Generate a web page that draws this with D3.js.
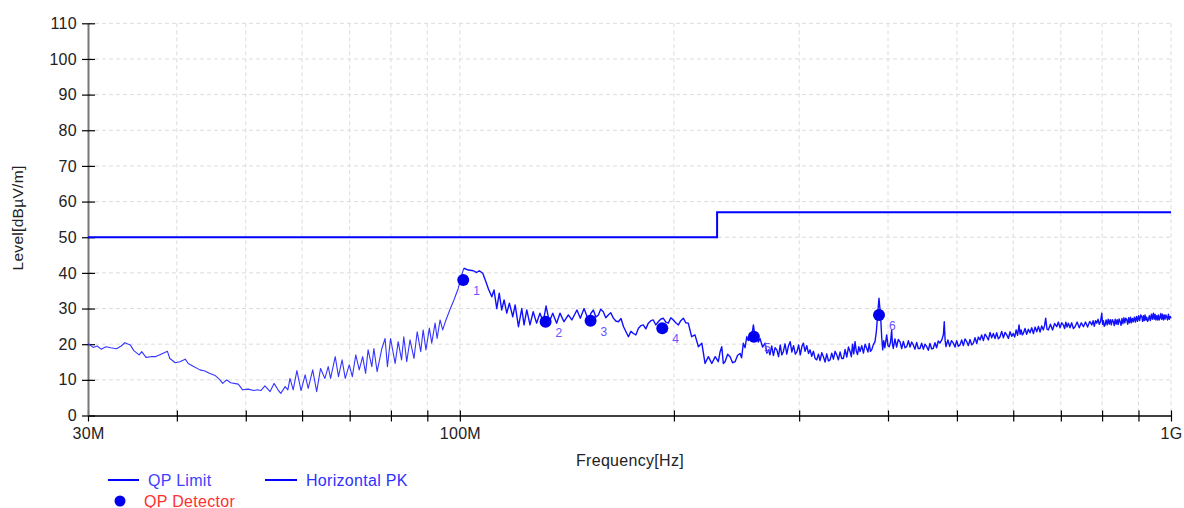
<!DOCTYPE html>
<html>
<head>
<meta charset="utf-8">
<script src="https://cdn.jsdelivr.net/npm/d3@7"></script>
<style>
body { margin: 0; background: #fff; }
text { font-family: "Liberation Sans", Arial, sans-serif; letter-spacing: 0.3px; }
</style>
</head>
<body>
<script>
// frequency in MHz, level in dBuV/m
const limitFreq = [30, 230, 230, 1000];
const limitLevel = [50, 50, 57, 57];

const qpFreq = [101.1, 132.0, 152.7, 192.6, 259.1, 388.5];
const qpLevel = [38.0, 26.3, 26.6, 24.5, 22.1, 28.2];
const qpLabels = ['1', '2', '3', '4', '5', '6'];

const xTicks = [30, 40, 50, 60, 70, 80, 90, 100, 200, 300, 400, 500, 600, 700, 800, 900, 1000];
const xLabels = { 30: '30M', 100: '100M', 1000: '1G' };
const yTicks = [0, 10, 20, 30, 40, 50, 60, 70, 80, 90, 100, 110];

// Horizontal PK trace
const pkTrace = [
  [30.0,20.2],[30.5,19.1],[30.9,19.5],[31.3,18.6],[31.8,19.3],[32.3,19.0],[32.9,18.7],[33.4,19.5],[33.8,20.4],
  [34.4,19.8],[34.8,18.2],[35.4,17.0],[35.7,17.9],[36.2,16.3],[36.8,16.5],[37.3,16.5],[38.0,17.2],[38.8,18.0],
  [39.1,16.0],[39.8,14.8],[40.4,15.1],[41.1,15.8],[41.5,14.6],[42.1,13.9],[43.1,12.8],[43.8,12.5],[44.5,11.8],
  [45.3,11.2],[46.0,10.0],[46.4,9.0],[47.0,10.0],[47.6,9.2],[48.8,8.8],[49.5,7.2],[50.4,7.4],[51.3,7.0],
  [51.9,7.2],[52.5,7.0],[53.2,8.3],[54.1,6.7],[54.8,9.0],[55.5,7.2],[56.0,6.2],[56.8,8.1],[57.3,7.2],
  [57.7,10.4],[58.3,7.2],[59.0,12.6],[59.8,7.0],
  [60.6,11.4],[61.2,7.6],[62.1,12.8],[62.9,6.7],[63.7,13.2],[64.6,10.4],[65.3,13.7],[65.8,10.4],[66.8,16.5],
  [67.5,10.9],[68.3,15.6],[69.0,10.4],[69.9,14.2],[70.6,10.9],[71.4,17.0],[72.2,12.8],[73.0,16.5],[73.7,11.8],
  [74.3,18.4],[75.2,13.7],[75.7,18.8],[76.5,12.3],[77.7,18.8],[78.5,21.6],[79.1,13.7],[79.9,21.6],[81.1,14.6],
  [81.9,20.7],[82.8,15.6],[83.4,22.1],[84.2,15.1],[85.1,21.2],[86.2,16.0],[87.1,23.5],[88.1,17.9],[88.8,24.0],
  [89.6,18.4],[90.6,24.5],[91.3,20.3],[92.3,25.9],[92.9,21.6],[93.8,26.8],[94.6,24.0],[95.6,26.8],[96.8,29.6],
  [98.1,32.4],[99.5,35.7],[100.6,39.4],[101.3,41.3],[102.8,40.8],[104.5,40.6],[105.6,40.1],[106.5,40.6],
  [107.7,39.9],[108.8,37.5],[109.7,35.5],[110.9,33.3],[111.7,35.2],[112.7,30.0],[113.6,34.3],[114.5,29.6],
  [115.4,32.4],[116.4,28.7],[117.4,31.5],[118.7,27.7],[119.6,31.0],[120.9,24.9],[122.2,30.0],[123.1,25.4],
  [124.2,29.6],[125.5,25.4],[126.8,29.1],[128.2,25.9],[129.6,28.7],[131.0,26.3],[132.2,30.7],[133.6,26.3],
  [135.1,28.7],[136.8,25.9],[138.3,28.7],[140.1,26.3],[142.1,28.2],[143.7,26.8],[146.1,29.6],[147.7,27.3],
  [149.5,30.0],[151.6,26.8],[152.8,28.6],[154.1,29.6],[155.3,27.6],[156.6,28.2],[157.8,29.8],[159.1,29.1],
  [160.4,27.4],[161.7,28.2],[163.0,28.8],[164.4,27.3],[165.7,26.5],[167.1,26.3],[168.5,27.2],[169.9,24.9],
  [172.6,22.1],[174.0,23.6],[175.4,23.0],[176.8,22.6],[178.3,24.5],[179.7,25.2],[181.1,25.4],[182.6,24.3],
  [184.1,25.9],[185.6,26.6],[187.1,26.8],[188.6,25.4],[190.1,26.3],[191.6,27.0],[193.2,27.3],[194.8,26.2],
  [196.4,25.9],[198.0,27.4],[199.6,26.8],[201.2,26.0],[202.9,25.4],[204.5,26.6],[206.2,27.3],[207.8,26.0],
  [209.5,25.9],[211.8,22.1],[214.1,22.6],[216.5,19.3],[218.9,20.3],[221.2,14.6],[223.6,16.5],[226.1,14.6],
  [228.6,16.5],
  [230.9,15.1],[232.2,17.8],[233.5,19.3],[234.7,14.6],[236.0,15.1],[238.0,17.2],[239.9,16.5],[241.8,14.8],
  [243.8,15.1],[245.8,16.9],[247.8,17.4],[249.0,16.2],[250.4,20.3],[251.8,19.0],[253.2,22.1],[254.5,21.0],
  [255.9,23.0],[257.3,22.3],[258.7,25.4],[260.1,22.0],[261.5,23.0],[262.9,20.6],[264.3,21.6],[266.5,19.2],
  [268.7,20.3],[270.2,17.5],[271.7,18.4],[272.9,17.0],[274.5,19.5],[276.0,16.8],[277.5,19.0],[279.1,18.4],
  [280.6,16.5],[282.2,19.8],[283.6,17.0],[285.0,17.9],[286.6,20.1],[288.2,17.2],[289.8,19.5],[291.4,20.7],
  [293.0,17.8],[294.6,19.6],[296.3,17.2],[297.9,17.9],[299.5,19.8],[301.1,17.0],[302.7,19.4],[304.1,20.3],
  [305.8,18.0],[307.5,19.6],[309.2,17.4],[310.8,18.4],[312.5,16.6],[314.2,18.0],[315.9,16.0],[317.6,15.6],
  [319.3,17.2],[321.0,15.4],[322.8,17.6],[324.5,16.5],[326.3,15.0],[328.0,17.3],[329.8,15.3],[331.6,15.6],
  [333.4,17.5],[335.2,15.8],[337.0,18.0],[338.8,17.0],[340.6,15.6],[342.5,17.8],[344.3,16.0],[346.2,16.0],
  [348.1,18.5],[350.0,16.4],[351.9,19.2],[353.8,17.9],[355.2,16.5],[356.6,20.0],[358.0,17.3],[359.5,20.7],
  [361.0,18.0],[362.4,17.1],[363.9,19.3],[365.4,17.9],[367.4,19.6],[369.4,17.5],[371.4,20.0],[373.4,18.8],
  [374.9,17.8],[376.4,20.2],[377.9,18.0],[379.4,18.4],[381.4,19.8],[383.5,20.7],[385.2,23.5],[386.9,28.7],
  [388.5,32.9],[390.6,27.7],[391.9,22.0],[393.2,18.4],[394.5,21.0],[395.9,19.0],[397.1,20.8],[398.3,22.6],
  [400.0,19.6],[401.7,19.3],[403.3,20.6],[404.8,24.0],[405.8,20.0],[406.9,18.8],[409.1,21.5],[411.3,19.2],
  [413.5,21.3],[415.8,20.7],[418.1,18.8],[420.4,20.8],[422.7,19.0],[425.0,19.3],[427.3,21.0],[429.6,19.2],
  [431.9,20.6],[434.1,19.8],[436.5,18.6],[438.9,20.5],[441.2,18.8],[443.6,18.8],[446.0,20.3],[448.5,18.6],
  [450.9,20.0],[453.4,19.3],[455.8,18.3],[458.2,20.2],[460.7,18.7],[463.1,18.8],[465.6,20.4],[468.2,19.0],
  [470.7,20.9],[473.3,20.3],[476.6,21.4],[478.6,22.8],[479.9,26.3],[481.3,21.0],[482.7,19.3],[485.6,21.2],
  [488.4,19.4],[491.3,21.0],[494.2,20.3],[496.9,19.2],[499.6,21.0],[502.3,19.4],[505.0,19.8],[507.8,21.2],
  [510.5,19.6],[513.3,21.5],[516.1,20.7],[518.9,19.6],[521.7,21.3],[524.5,19.8],[527.3,20.3],[530.2,21.8],
  [533.1,20.2],[535.9,22.0],[538.8,21.2],[541.7,22.6],[544.7,21.0],[547.6,22.8],[550.6,22.1],[553.6,21.2],
  [556.6,23.3],[559.6,21.8],[562.6,23.0],[565.7,21.6],[568.7,23.2],[571.8,21.5],[574.9,22.1],[578.0,23.6],
  [581.2,21.8],[584.3,23.3],[587.5,22.6],[590.7,21.6],[593.9,23.5],[597.0,22.2],[600.0,23.0],[602.8,22.0],
  [605.7,24.0],[608.5,22.5],[611.4,25.4],[613.5,22.8],[615.6,24.0],[617.8,22.6],[619.9,23.0],[623.3,24.4],
  [626.7,22.8],[630.1,24.2],[633.5,23.2],[637.0,24.6],[640.5,23.0],[644.0,24.8],[647.5,23.5],[651.0,25.0],
  [654.5,23.4],[657.9,25.1],[661.4,24.0],[664.0,25.2],[666.5,27.3],[669.3,24.2],[672.2,24.0],[676.8,25.6],
  [681.5,24.0],[686.1,25.8],[690.8,24.9],[694.5,26.2],[698.2,24.6],[701.9,26.0],[705.7,25.4],[708.6,24.4],
  [711.4,26.2],[714.3,24.8],[717.2,25.9],[721.1,24.6],[725.0,26.0],[729.0,24.4],[732.9,24.9],[737.9,26.2],
  [743.0,24.6],[748.0,26.0],[753.0,24.9],[758.2,26.2],[763.4,24.8],[768.6,26.4],[773.8,25.4],[777.0,26.6],
  [780.1,25.0],[783.2,26.6],[786.4,25.9],[789.6,27.0],[792.8,25.6],[796.0,26.4],[799.2,28.7],[801.3,25.6],
  [803.5,26.6],[805.6,25.0],[807.8,25.4],[810.5,26.8],[813.3,25.4],[816.0,27.0],[818.8,25.6],[821.5,26.9],
  [824.3,25.4],[827.0,26.9],[829.8,26.3],[832.0,25.2],[834.6,27.0],[837.3,25.6],[840.0,26.9],[842.6,25.5],
  [845.3,27.1],[848.0,26.3],[850.6,25.3],[853.2,27.2],[855.8,25.8],[858.5,27.4],[861.2,26.0],[863.8,27.3],
  [866.6,26.8],[869.2,25.6],[871.8,27.4],[874.3,26.0],[877.0,27.6],[879.7,26.0],[882.4,27.2],[885.2,26.3],
  [888.2,27.6],[891.2,26.2],[894.3,27.8],[897.3,26.4],[900.4,28.0],[903.5,26.6],[906.6,28.2],[909.7,27.7],
  [912.2,26.4],[914.6,28.0],[917.1,26.6],[919.5,28.2],[922.0,26.8],[924.4,27.6],[926.8,26.4],[929.3,26.8],
  [932.3,28.0],[935.3,26.6],[938.4,28.4],[941.4,27.0],[944.5,28.7],[947.0,27.0],[949.7,28.4],[952.3,26.8],
  [955.0,28.0],[957.6,26.8],[960.3,28.2],[962.6,26.8],[965.0,27.3],[967.6,28.6],[970.3,27.0],[972.9,28.4],
  [975.6,26.8],[978.3,28.2],[981.0,27.0],[983.6,28.2],[986.2,27.7],[989.0,26.8],[991.7,28.4],[994.5,27.0],
  [997.2,27.8],[1000,27.3]
];

const margin = { top: 23.3, left: 88 };
const width = 1083;
const height = 392.2;

const svg = d3.select('body').append('svg')
  .attr('width', 1184)
  .attr('height', 508);

const g = svg.append('g')
  .attr('transform', `translate(${margin.left}, ${margin.top})`);

const x = d3.scaleLog().domain([30, 1000]).range([0, width]);
const y = d3.scaleLinear().domain([0, 110]).range([height, 0]);

// grid
g.append('g').selectAll('line').data(yTicks.slice(1)).join('line')
  .attr('x1', 0).attr('x2', width)
  .attr('y1', (d) => y(d)).attr('y2', (d) => y(d))
  .attr('stroke', '#dcdcdc').attr('stroke-dasharray', '4,3');

g.append('g').selectAll('line').data(xTicks.slice(1)).join('line')
  .attr('x1', (d) => x(d)).attr('x2', (d) => x(d))
  .attr('y1', 0).attr('y2', height)
  .attr('stroke', '#dcdcdc').attr('stroke-dasharray', '4,3');

// axes
const xAxis = d3.axisBottom(x).tickValues(xTicks)
  .tickFormat((d) => xLabels[d] || '')
  .tickSize(6).tickSizeOuter(0);
const gx = g.append('g').attr('transform', `translate(0, ${height})`).call(xAxis);
gx.select('.domain').attr('stroke', '#000').attr('stroke-width', 1.5);
gx.selectAll('.tick line').attr('y1', -5).attr('stroke', '#000').attr('stroke-width', 1.2);
gx.selectAll('.tick text').attr('y', 12).attr('font-size', 16).attr('fill', '#222')
  .style('font-family', '"Liberation Sans", Arial, sans-serif');

const yAxis = d3.axisLeft(y).tickValues(yTicks).tickSize(6).tickSizeOuter(0);
const gy = g.append('g').call(yAxis);
gy.select('.domain').attr('stroke', '#777').attr('stroke-width', 2);
gy.selectAll('.tick line').attr('x1', 7).attr('stroke', '#000').attr('stroke-width', 1.2);
gy.selectAll('.tick text').attr('x', -11).attr('font-size', 16).attr('fill', '#222')
  .style('font-family', '"Liberation Sans", Arial, sans-serif');

// axis titles
svg.append('text')
  .attr('x', 630).attr('y', 466)
  .attr('text-anchor', 'middle').attr('font-size', 16).attr('fill', '#222')
  .text('Frequency[Hz]');

svg.append('text')
  .attr('transform', 'translate(18, 218) rotate(-90)')
  .attr('text-anchor', 'middle').attr('dy', '0.35em')
  .attr('font-size', 15.5).attr('fill', '#222')
  .text('Level[dBµV/m]');

// limit line
const limitData = limitFreq.map((f, i) => [f, limitLevel[i]]);
const line = d3.line().x((d) => x(d[0])).y((d) => y(d[1]));

g.append('path').datum(limitData)
  .attr('d', line)
  .attr('fill', 'none').attr('stroke', '#0000ff').attr('stroke-width', 2);

// measured trace: thin below 100M, denser (thicker) above
g.append('path').datum(pkTrace.filter((d) => d[0] <= 101.3))
  .attr('d', line)
  .attr('fill', 'none').attr('stroke', '#3535ff').attr('stroke-width', 1.1)
  .attr('stroke-linejoin', 'round');
g.append('path').datum(pkTrace.filter((d) => d[0] >= 101.3))
  .attr('d', line)
  .attr('fill', 'none').attr('stroke', '#1010ff').attr('stroke-width', 1.4)
  .attr('stroke-linejoin', 'round');

// QP detector points
const qp = qpFreq.map((f, i) => ({ f: f, v: qpLevel[i], label: qpLabels[i] }));
g.selectAll('circle.qp').data(qp).join('circle')
  .attr('class', 'qp')
  .attr('cx', (d) => x(d.f)).attr('cy', (d) => y(d.v))
  .attr('r', 6).attr('fill', '#0000ee');

g.selectAll('text.qp').data(qp).join('text')
  .attr('class', 'qp')
  .attr('x', (d) => x(d.f) + 10).attr('y', (d) => y(d.v) + 15)
  .attr('font-size', 12).attr('fill', '#6a50ff')
  .text((d) => d.label);

// legend
const legend = svg.append('g');
legend.append('line').attr('x1', 108).attr('x2', 139).attr('y1', 480).attr('y2', 480)
  .attr('stroke', '#0000ff').attr('stroke-width', 2);
legend.append('text').attr('x', 148).attr('y', 485.5).attr('font-size', 16)
  .attr('fill', '#4040ff').text('QP Limit');
legend.append('line').attr('x1', 265).attr('x2', 297).attr('y1', 480).attr('y2', 480)
  .attr('stroke', '#0000ff').attr('stroke-width', 2);
legend.append('text').attr('x', 306).attr('y', 485.5).attr('font-size', 16)
  .attr('fill', '#3030ff').text('Horizontal PK');
legend.append('circle').attr('cx', 120).attr('cy', 501).attr('r', 5.5)
  .attr('fill', '#0000ee');
legend.append('text').attr('x', 144).attr('y', 506.5).attr('font-size', 16)
  .attr('fill', '#ff3030').text('QP Detector');
</script>
</body>
</html>
